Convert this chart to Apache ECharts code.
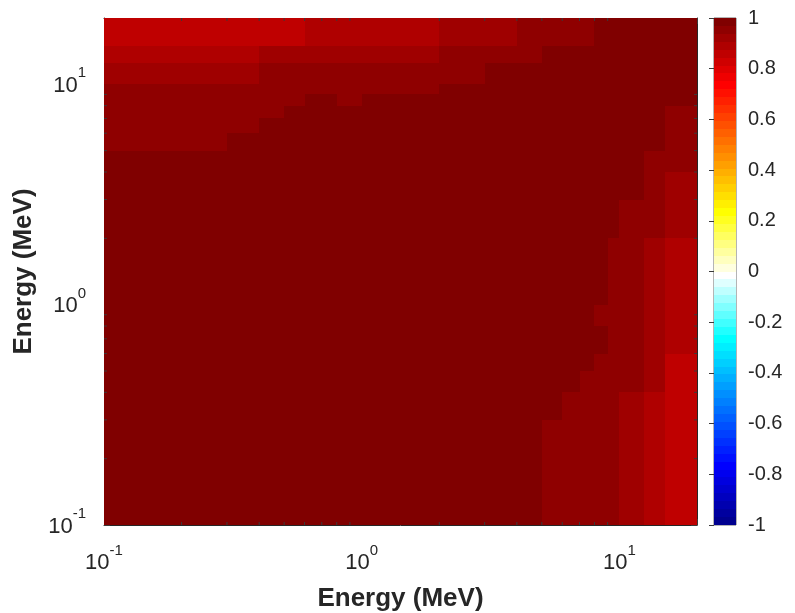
<!DOCTYPE html>
<html><head><meta charset="utf-8">
<script src="https://cdn.jsdelivr.net/npm/echarts@6/dist/echarts.min.js"></script>
<style>html,body{margin:0;padding:0;background:#fff;} #c{width:795px;height:613px;}</style>
</head><body><div id="c"></div>
<script>
// Energy group edges (MeV), shared by both axes
const energyEdges = [0.1,0.2,0.3,0.4,0.5,0.6,0.7,0.8,0.9,1,2,3,4,5,6,7,8,9,10,12.5,15,20];
// Correlation rows, from the lowest y bin (0.1-0.2 MeV) to the highest (15-20 MeV);
// each row holds one value per x bin (0.1-0.2 ... 15-20 MeV)
const row00 = [0.985,0.985,0.985,0.985,0.985,0.985,0.985,0.985,0.985,0.985,0.985,0.985,0.985,0.955,0.955,0.955,0.955,0.955,0.92,0.89,0.86];
const row01 = [0.985,0.985,0.985,0.985,0.985,0.985,0.985,0.985,0.985,0.985,0.985,0.985,0.985,0.955,0.955,0.955,0.955,0.955,0.92,0.89,0.86];
const row02 = [0.985,0.985,0.985,0.985,0.985,0.985,0.985,0.985,0.985,0.985,0.985,0.985,0.985,0.985,0.955,0.955,0.955,0.955,0.92,0.89,0.86];
const row03 = [0.985,0.985,0.985,0.985,0.985,0.985,0.985,0.985,0.985,0.985,0.985,0.985,0.985,0.985,0.985,0.955,0.955,0.955,0.955,0.92,0.86];
const row04 = [0.985,0.985,0.985,0.985,0.985,0.985,0.985,0.985,0.985,0.985,0.985,0.985,0.985,0.985,0.985,0.985,0.955,0.955,0.955,0.92,0.86];
const row05 = [0.985,0.985,0.985,0.985,0.985,0.985,0.985,0.985,0.985,0.985,0.985,0.985,0.985,0.985,0.985,0.985,0.985,0.955,0.955,0.92,0.89];
const row06 = [0.985,0.985,0.985,0.985,0.985,0.985,0.985,0.985,0.985,0.985,0.985,0.985,0.985,0.985,0.985,0.985,0.985,0.955,0.955,0.92,0.89];
const row07 = [0.985,0.985,0.985,0.985,0.985,0.985,0.985,0.985,0.985,0.985,0.985,0.985,0.985,0.985,0.985,0.985,0.955,0.955,0.955,0.92,0.89];
const row08 = [0.985,0.985,0.985,0.985,0.985,0.985,0.985,0.985,0.985,0.985,0.985,0.985,0.985,0.985,0.985,0.985,0.955,0.955,0.955,0.92,0.89];
const row09 = [0.985,0.985,0.985,0.985,0.985,0.985,0.985,0.985,0.985,0.985,0.985,0.985,0.985,0.985,0.985,0.985,0.985,0.955,0.955,0.92,0.89];
const row10 = [0.985,0.985,0.985,0.985,0.985,0.985,0.985,0.985,0.985,0.985,0.985,0.985,0.985,0.985,0.985,0.985,0.985,0.985,0.955,0.955,0.92];
const row11 = [0.985,0.985,0.985,0.985,0.985,0.985,0.985,0.985,0.985,0.985,0.985,0.985,0.985,0.985,0.985,0.985,0.985,0.985,0.985,0.955,0.92];
const row12 = [0.985,0.985,0.985,0.985,0.985,0.985,0.985,0.985,0.985,0.985,0.985,0.985,0.985,0.985,0.985,0.985,0.985,0.985,0.985,0.955,0.955];
const row13 = [0.955,0.955,0.985,0.985,0.985,0.985,0.985,0.985,0.985,0.985,0.985,0.985,0.985,0.985,0.985,0.985,0.985,0.985,0.985,0.985,0.955];
const row14 = [0.955,0.955,0.955,0.985,0.985,0.985,0.985,0.985,0.985,0.985,0.985,0.985,0.985,0.985,0.985,0.985,0.985,0.985,0.985,0.985,0.955];
const row15 = [0.955,0.955,0.955,0.955,0.985,0.985,0.985,0.985,0.985,0.985,0.985,0.985,0.985,0.985,0.985,0.985,0.985,0.985,0.985,0.985,0.955];
const row16 = [0.955,0.955,0.955,0.955,0.955,0.985,0.985,0.955,0.955,0.985,0.985,0.985,0.985,0.985,0.985,0.985,0.985,0.985,0.985,0.985,0.985];
const row17 = [0.955,0.955,0.955,0.955,0.955,0.955,0.955,0.955,0.955,0.955,0.985,0.985,0.985,0.985,0.985,0.985,0.985,0.985,0.985,0.985,0.985];
const row18 = [0.92,0.92,0.92,0.955,0.955,0.955,0.955,0.955,0.955,0.955,0.955,0.985,0.985,0.985,0.985,0.985,0.985,0.985,0.985,0.985,0.985];
const row19 = [0.89,0.89,0.89,0.92,0.92,0.92,0.92,0.92,0.92,0.92,0.955,0.955,0.955,0.985,0.985,0.985,0.985,0.985,0.985,0.985,0.985];
const row20 = [0.86,0.86,0.86,0.86,0.86,0.89,0.89,0.89,0.89,0.89,0.92,0.92,0.955,0.955,0.955,0.955,0.985,0.985,0.985,0.985,0.985];
const corrRows = [row00,row01,row02,row03,row04,row05,row06,row07,row08,row09,row10,row11,row12,row13,row14,row15,row16,row17,row18,row19,row20];
// Axis tick values
const minorTicks = [0.2,0.3,0.4,0.5,0.6,0.7,0.8,0.9,2,3,4,5,6,7,8,9];
const colorbarTicks = [-1,-0.8,-0.6,-0.4,-0.2,0,0.2,0.4,0.6,0.8,1];

// 64-step jet-like colormap with a white centre (style only)
function colormap(m){
  const n = Math.ceil(m/4);
  const u = [];
  for (let i=1;i<=n;i++) u.push(i/n);
  for (let i=1;i<n;i++) u.push(1);
  for (let i=n;i>=1;i--) u.push(i/n);
  const off = Math.ceil(n/2) - (m%4===1?1:0);
  const J = []; for (let i=0;i<m;i++) J.push([0,0,0]);
  for (let k=0;k<u.length;k++){
    const g = off + k + 1, r = g + n, b = g - n;
    if (g>=1 && g<=m) J[g-1][1] = u[k];
    if (r>=1 && r<=m) J[r-1][0] = u[k];
    if (b>=1 && b<=m) J[b-1][2] = u[k];
  }
  // replace the green middle by cyan -> white -> yellow
  const h = m/2, q = m/8;
  for (let i = h - q; i < h; i++) J[i] = [(i - (h - q) + 1)/q, 1, 1];
  for (let i = h; i < h + q; i++) J[i] = [1, 1, (h + q - 1 - i)/q];
  return J.map(c => 'rgb(' + c.map(v => Math.round(v*255)).join(',') + ')');
}
const cmap = colormap(64);
const pieces = cmap.map((c,i) => {
  const lo = -1 + i*2/64, hi = -1 + (i+1)*2/64;
  return i === 63 ? {gte: lo, lte: hi, color: c} : {gte: lo, lt: hi, color: c};
});

const cells = [];
corrRows.forEach((row, j) => row.forEach((v, i) => {
  cells.push([energyEdges[i], energyEdges[i+1], energyEdges[j], energyEdges[j+1], v]);
}));
const cbCells = cmap.map((c,i) => [0, 1, -1 + i*2/64, -1 + (i+1)*2/64, -1 + (i+0.5)*2/64]);

const FONT = 'Liberation Sans, Arial, Helvetica, sans-serif';
const TXT = '#262626';
const powLabel = v => {
  const e = Math.log10(v);
  if (Math.abs(e - Math.round(e)) > 1e-6) return '';
  return '{b|10}{s|' + Math.round(e) + '}';
};
const rich = {
  b: {fontSize: 22, fontFamily: FONT, color: TXT, verticalAlign: 'bottom', lineHeight: 31},
  s: {fontSize: 15, fontFamily: FONT, color: TXT, verticalAlign: 'top', lineHeight: 31}
};

const logAxisBase = {
  type: 'log', logBase: 10, min: 0.1, max: 20,
  splitLine: {show: false},
  axisLine: {show: true, lineStyle: {color: TXT, width: 1}},
  axisTick: {show: true, inside: true, length: 6, lineStyle: {color: '#3a3a3a', width: 1}},
};

const rectItem = (params, api) => {
  const p0 = api.coord([api.value(0), api.value(2)]);
  const p1 = api.coord([api.value(1), api.value(3)]);
  const x0 = Math.round(p0[0]), x1 = Math.round(p1[0]);
  const yb = Math.round(p0[1]), yt = Math.round(p1[1]);
  return {type: 'rect',
    shape: {x: x0, y: yt, width: x1 - x0, height: yb - yt},
    style: {fill: api.visual('color')}};
};

const chart = echarts.init(document.getElementById('c'), null, {renderer: 'canvas'});
chart.setOption({
  animation: false,
  backgroundColor: '#fff',
  grid: [
    {left: 104, top: 18, width: 593, height: 507, show: false, containLabel: false, outerBoundsMode: 'none'},
    {left: 714, top: 18, width: 22, height: 507, show: true, borderColor: '#6b6b6b', borderWidth: 1, containLabel: false, outerBoundsMode: 'none'}
  ],
  xAxis: [
    Object.assign({}, logAxisBase, {gridIndex: 0, position: 'bottom',
      name: 'Energy (MeV)', nameLocation: 'middle', nameGap: 61,
      nameTextStyle: {fontSize: 26, fontWeight: 'bold', fontFamily: FONT, color: TXT},
      axisLabel: {formatter: powLabel, rich: rich, margin: 18}}),
    Object.assign({}, logAxisBase, {gridIndex: 0, position: 'top', axisLabel: {show: false}}),
    {type: 'value', gridIndex: 1, min: 0, max: 1, show: false}
  ],
  yAxis: [
    Object.assign({}, logAxisBase, {gridIndex: 0, position: 'left',
      name: 'Energy (MeV)', nameLocation: 'middle', nameGap: 64,
      nameTextStyle: {fontSize: 26, fontWeight: 'bold', fontFamily: FONT, color: TXT},
      axisLabel: {formatter: powLabel, rich: rich, margin: 18, padding: [0, 0, 6, 0]}}),
    Object.assign({}, logAxisBase, {gridIndex: 0, position: 'right', axisLabel: {show: false}}),
    {type: 'value', gridIndex: 1, position: 'right', min: -1, max: 1, interval: 0.2,
      splitLine: {show: false},
      axisLine: {show: false},
      axisTick: {show: true, inside: true, length: 5, lineStyle: {color: '#3a3a3a'}},
      axisLabel: {margin: 12, fontSize: 20, fontFamily: FONT, color: TXT,
        formatter: v => String(Math.round(v*10)/10)}}
  ],
  visualMap: {type: 'piecewise', show: false, dimension: 4, seriesIndex: [0, 1], pieces: pieces},
  series: [
    {type: 'custom', xAxisIndex: 0, yAxisIndex: 0, data: cells,
      encode: {x: [0, 1], y: [2, 3]}, renderItem: rectItem},
    {type: 'custom', xAxisIndex: 2, yAxisIndex: 2, data: cbCells,
      encode: {x: [0, 1], y: [2, 3]}, renderItem: rectItem},
    {
      type: 'custom', xAxisIndex: 0, yAxisIndex: 0, data: minorTicks.map(v => [v, v]),
      encode: {x: 0, y: 1}, z: 5, silent: true,
      renderItem: (params, api) => {
        const v = api.value(0);
        const b = api.coord([v, 0.1]), t = api.coord([v, 20]);
        const l = api.coord([0.1, v]), r = api.coord([20, v]);
        const st = {stroke: '#3a3a3a', lineWidth: 1};
        const L = 3;
        return {type: 'group', children: [
          {type: 'line', shape: {x1: b[0], y1: b[1], x2: b[0], y2: b[1] - L}, style: st},
          {type: 'line', shape: {x1: t[0], y1: t[1], x2: t[0], y2: t[1] + L}, style: st},
          {type: 'line', shape: {x1: l[0], y1: l[1], x2: l[0] + L, y2: l[1]}, style: st},
          {type: 'line', shape: {x1: r[0], y1: r[1], x2: r[0] - L, y2: r[1]}, style: st}
        ]};
      }
    }
  ]
});
</script></body></html>
